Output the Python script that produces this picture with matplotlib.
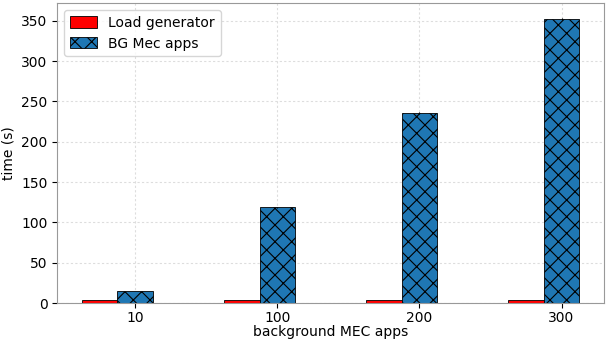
import matplotlib.pyplot as plt
import numpy as np

categories = ["10", "100", "200", "300"]
load_gen = [4.5, 4.5, 4.5, 4.5]
bg_apps = [15, 119, 236, 352]
bg_err = [0.5, 0.8, 1.2, 1.5]

x = np.arange(len(categories))
width = 0.25

plt.rcParams["hatch.linewidth"] = 0.8

fig = plt.figure(figsize=(6.14, 3.41), dpi=100)
ax = fig.add_axes([0.093, 0.111, 0.891, 0.880])

ax.bar(x - width, load_gen, width, color="red", edgecolor="black",
       linewidth=0.6, label="Load generator")
ax.bar(x, bg_apps, width, yerr=bg_err, color="#1f77b4", edgecolor="black",
       linewidth=0.6, hatch="xx", ecolor="black", error_kw={"elinewidth": 0.8},
       label="BG Mec apps")

ax.set_xticks(x)
ax.set_xticklabels(categories)
ax.set_ylim(0, 372)
ax.tick_params(axis="x", pad=2)
ax.set_xlabel("background MEC apps", labelpad=0)
ax.set_ylabel("time (s)")
ax.grid(True, linestyle=(0, (2, 2)), color="#dddddd", linewidth=0.8)
ax.set_axisbelow(True)
for s in ax.spines.values():
    s.set_color("#999999")
ax.legend(loc="upper left", fontsize=10, handleheight=0.9)

fig.savefig("out.png", dpi=100)
